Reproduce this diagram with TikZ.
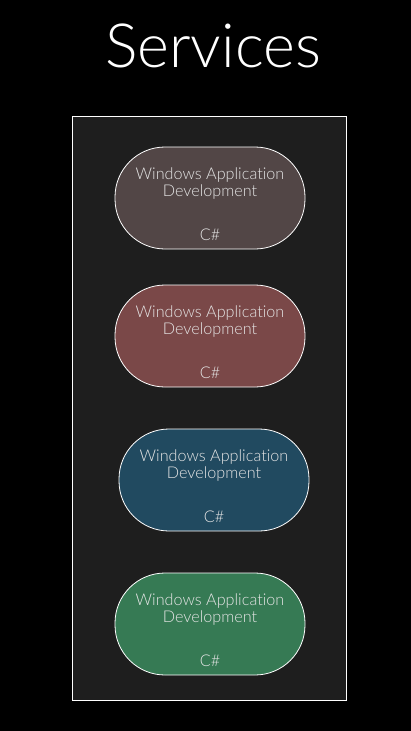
\documentclass[tikz,border=0pt]{standalone}
\usepackage{fontspec}
\setmainfont{Lato}[UprightFont=* Light, Ligatures={NoCommon}]
\usepackage{tikz}

\definecolor{panel}{HTML}{1E1E1E}
\definecolor{brownish}{HTML}{524646}
\definecolor{reddish}{HTML}{7A4848}
\definecolor{bluish}{HTML}{214A60}
\definecolor{greenish}{HTML}{367A54}

\tikzset{
  pill/.style={draw=white, line width=0.8pt, rounded corners=50pt,
    minimum width=190pt, minimum height=102pt, inner sep=0pt},
  pilltext/.style={text=white!90!black, font=\fontsize{16.2}{17.5}\selectfont,
    align=center, inner sep=0pt}
}

\begin{document}
\begin{tikzpicture}[x=1pt,y=-1pt]
\fill[black] (0,0) rectangle (411,731);
\useasboundingbox (0,0) rectangle (411,731);

\node[text=white, font=\fontsize{61}{61}\selectfont] (title) at (213,46) {Services};
\draw[white, fill=panel, line width=1pt] (72,116.5) rectangle (346,700);

% the four services
\foreach \name/\x/\y/\col in {winA/210/198/brownish, winB/210/336/reddish,
                              winC/214/480/bluish, winD/210/624/greenish} {
  \node[pill, fill=\col] (\name) at (\x,\y) {};
  \node[pilltext] (\name-title) at ([yshift=14.5pt]\name.center) {Windows Application\\Development};
  \node[pilltext] (\name-lang) at ([yshift=-37pt]\name.center) {C\#};
}
\end{tikzpicture}
\end{document}
